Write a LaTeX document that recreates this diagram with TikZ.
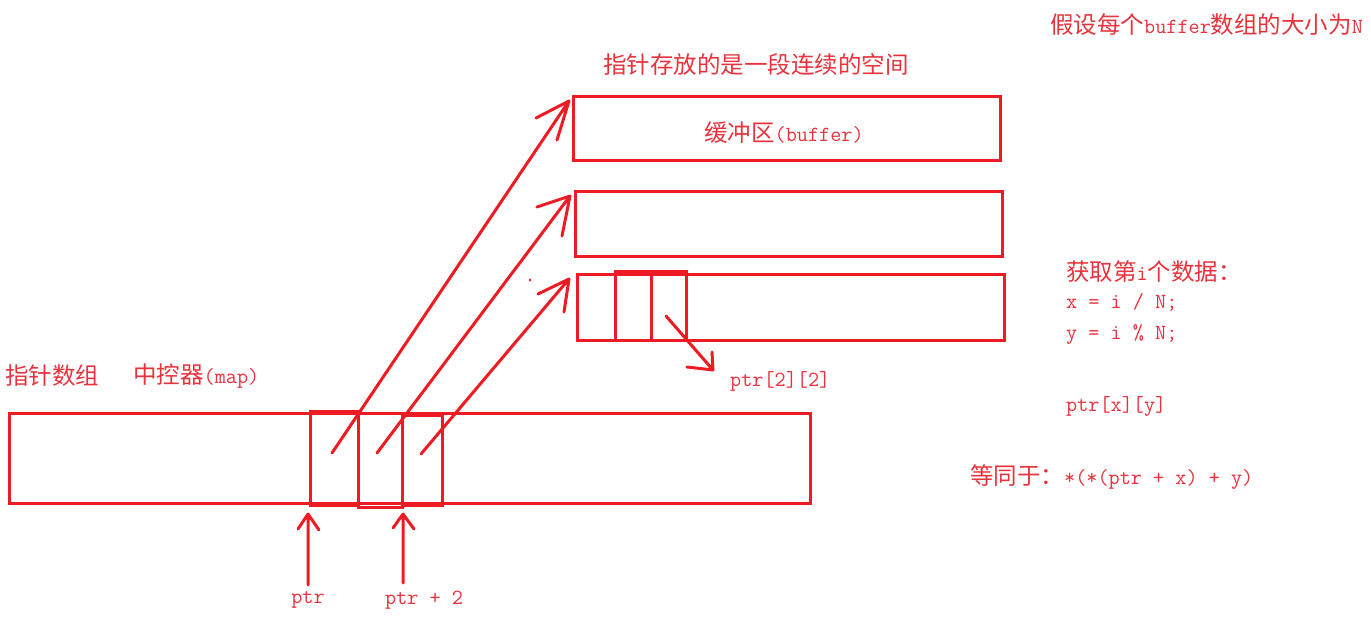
\documentclass[tikz,border=0pt]{standalone}
\usepackage{fontspec}
\newfontfamily\cjk{Noto Sans CJK SC}[Scale=1.088]
\definecolor{pr}{RGB}{237,28,36}
\definecolor{tr}{RGB}{232,50,60}
\begin{document}
\begin{tikzpicture}[x=1pt,y=-1pt,
  box/.style={draw=pr,line width=3pt,anchor=north west,inner sep=0,outer sep=0},
  txt/.style={text=tr,anchor=west,inner sep=0,font=\ttfamily\fontsize{21.6}{25}\selectfont},
  pen/.style={draw=pr,line width=3pt,line cap=round,line join=round}]
\useasboundingbox (0,0) rectangle (1371,628);
% map array
\node[box,minimum width=801pt,minimum height=90pt] (map) at (9,413) {};
\node[box,minimum width=48pt,minimum height=94pt] (c1) at (310,411) {};
\node[box,minimum width=44pt,minimum height=94pt] (c2) at (358,413) {};
\node[box,minimum width=40pt,minimum height=90pt] (c3) at (402,415) {};
% buffers
\node[box,minimum width=427pt,minimum height=64pt] (b1) at (573,97) {};
\node[box,minimum width=427pt,minimum height=65pt] (b2) at (575,192) {};
\node[box,minimum width=427pt,minimum height=66pt] (b3) at (577,275) {};
\node[box,minimum width=36pt,minimum height=69pt] (e1) at (615,272) {};
\node[box,minimum width=35pt,minimum height=69pt] (e2) at (651,272) {};
% arrow coordinates
\coordinate (s1) at (332,453); \coordinate (t1) at (569,101);
\coordinate (s2) at (377,453); \coordinate (t2) at (570,196);
\coordinate (s3) at (421,454); \coordinate (t3) at (569,279);
\draw[pen] (s1) -- (t1) -- (536,118) (t1) -- (557,140);
\draw[pen] (s2) -- (t2) -- (537,207) (t2) -- (562,236);
\draw[pen] (s3) -- (t3) -- (538,294) (t3) -- (564,312);
\fill[pr] (530,280) circle (1.5);
% ptr[2][2] arrow
\coordinate (s4) at (666,316); \coordinate (t4) at (713,370);
\draw[pen] (s4) -- (t4) -- (687,367) (t4) -- (712,352);
% bottom arrows
\coordinate (p1) at (308,585); \coordinate (q1) at (308,514);
\coordinate (p2) at (403,583); \coordinate (q2) at (403,514);
\draw[pen] (p1) -- (q1) -- (298,529) (q1) -- (319,530);
\draw[pen] (p2) -- (q2) -- (393,528) (q2) -- (414,529);
% texts
\node[txt] (title) at (603,65) {\cjk 指针存放的是一段连续的空间};
\node[txt] (note) at (1050,25) {{\cjk 假设每个}buffer{\cjk 数组的大小为}N};
\node[txt] (buf) at (704,133) {{\cjk 缓冲区}(buffer)};
\node[txt] (lab1) at (5,376) {\cjk 指针数组};
\node[txt] (lab2) at (133,376) {{\cjk 中控器}(map)};
\node[txt] (pp) at (730,381) {ptr[2][2]};
\node[txt] (r1) at (1066,272) {{\cjk 获取第}i{\cjk 个数据：}};
\node[txt] (r2) at (1066,303) {x = i / N;};
\node[txt] (r3) at (1066,334) {y = i \% N;};
\node[txt] (r4) at (1066,406) {ptr[x][y]};
\node[txt] (r5) at (970,477) {{\cjk 等同于：}*(*(ptr + x) + y)};
\node[txt,anchor=center] (ptr) at (308,600) {ptr};
\node[txt] (ptr2) at (385,600) {ptr + 2};
\end{tikzpicture}
\end{document}
